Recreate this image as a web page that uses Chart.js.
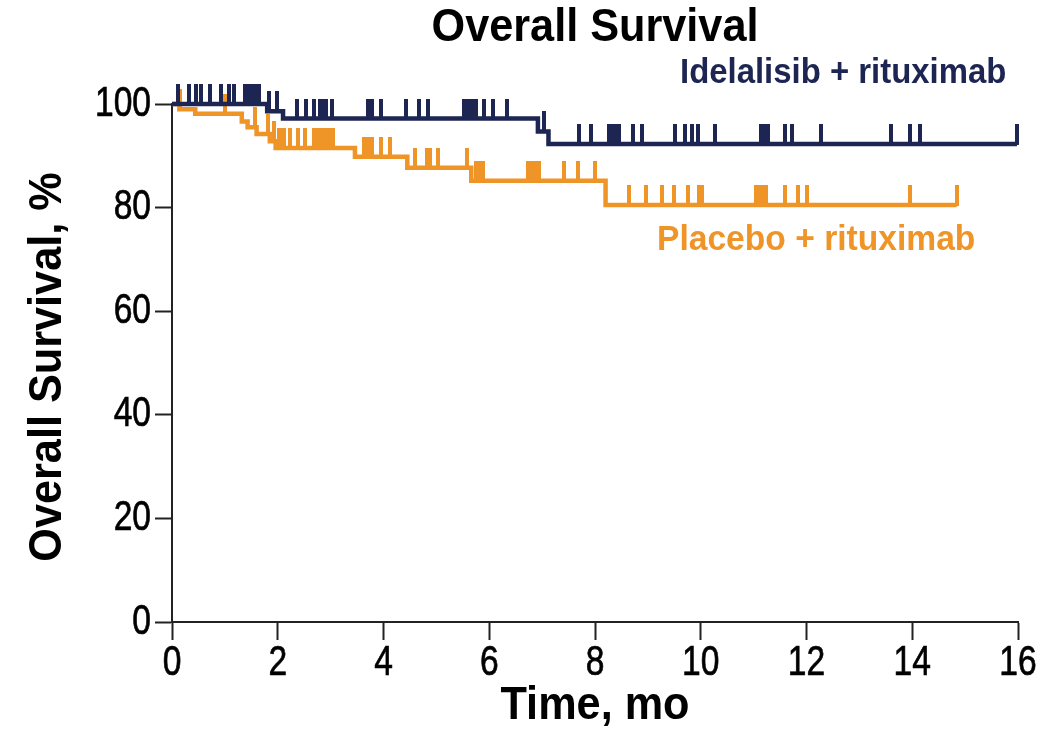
<!DOCTYPE html>
<html lang="en">
<head>
<meta charset="UTF-8">
<title>Overall Survival</title>
<script src="https://cdn.jsdelivr.net/npm/chart.js"></script>
<style>
    body {
        margin: 0;
        background: #ffffff;
    }
    #wrap {
        position: relative;
        width: 1064px;
        height: 734px;
    }
</style>
</head>
<body>
<div id="wrap">
    <canvas id="osChart"></canvas>
</div>
<script>
    // Kaplan-Meier steps: time of each drop (mo) and survival (%) after it
    const idelaTimes = [0, 1.80, 2.10, 6.92, 7.12, 15.98];
    const idelaSurv = [100, 98.6, 97.2, 94.7, 92.3, 92.3];
    // censored patients (mo)
    const idelaCensored = [0.12, 0.33, 0.45, 0.54, 0.72, 0.92, 1.07, 1.18, 1.38, 1.45, 1.52, 1.58, 1.65,
        1.84, 1.98, 2.37, 2.53, 2.69, 2.80, 2.86, 2.92, 3.02, 3.70, 3.78, 3.95, 4.42, 4.67, 4.85,
        5.53, 5.60, 5.67, 5.74, 5.90, 6.07, 6.33, 7.04, 7.69, 7.93, 8.27, 8.33, 8.40, 8.46, 8.72, 8.88,
        9.51, 9.71, 9.83, 9.95, 10.27, 11.14, 11.20, 11.27, 11.60, 11.72, 12.28, 13.60, 13.95, 14.15, 15.98];

    const placeboTimes = [0, 0.14, 0.44, 1.32, 1.43, 1.60, 1.85, 1.96, 3.46, 4.45, 5.66, 8.20, 14.84];
    const placeboSurv = [100, 99.0, 98.1, 96.6, 95.5, 94.2, 92.8, 91.5, 89.8, 87.7, 85.2, 80.5, 80.5];
    const placeboCensored = [0.15, 1.00, 1.57, 1.82, 1.92, 2.02, 2.07, 2.12, 2.23, 2.39, 2.52, 2.68, 2.74,
        2.80, 2.86, 2.92, 2.98, 3.04, 3.63, 3.70, 3.78, 3.96, 4.12, 4.60, 4.82, 4.88, 5.04, 5.57,
        5.75, 5.82, 5.88, 6.74, 6.80, 6.87, 6.94, 7.42, 7.68, 8.00, 8.65, 8.97, 9.27, 9.49, 9.76, 9.96,
        10.02, 11.04, 11.10, 11.16, 11.24, 11.60, 11.84, 12.00, 13.96, 14.84];

    const xTicks = [0, 2, 4, 6, 8, 10, 12, 14, 16];
    const yTicks = [0, 20, 40, 60, 80, 100];

    const NAVY = '#1d2552';
    const ORANGE = '#ef9427';
    const AXIS = '#222222';
    const FONT = '"Liberation Sans", Arial, sans-serif';

    function stepPoints(times, surv) {
        return times.map((t, i) => ({ x: t, y: surv[i] }));
    }

    // value of the step curve at time t
    function survAt(times, surv, t) {
        let s = surv[0];
        for (let i = 0; i < times.length; i++) {
            if (times[i] <= t) s = surv[i];
        }
        return s;
    }

    function censorPoints(times, surv, censored) {
        return censored.map(t => ({ x: t, y: survAt(times, surv, t) }));
    }

    // small vertical mark sitting on top of the curve
    function censorMark(color) {
        const c = document.createElement('canvas');
        c.width = 4;
        c.height = 40;
        const g = c.getContext('2d');
        g.fillStyle = color;
        g.fillRect(0, 0, 4, 21);
        return c;
    }

    // text squeezed horizontally like the original artwork
    function squeezed(ctx, text, x, y, align, sx, vertical, stroke) {
        ctx.save();
        ctx.translate(x, y);
        if (vertical) ctx.rotate(-Math.PI / 2);
        ctx.scale(sx, 1);
        ctx.textAlign = align;
        ctx.fillText(text, 0, 0);
        if (stroke) {
            ctx.strokeStyle = ctx.fillStyle;
            ctx.lineWidth = stroke;
            ctx.strokeText(text, 0, 0);
        }
        ctx.restore();
    }

    const textPlugin = {
        id: 'textPlugin',
        afterDraw(chart) {
            const ctx = chart.ctx;
            const area = chart.chartArea;
            const xs = chart.scales.x;
            const ys = chart.scales.y;
            ctx.save();
            ctx.textBaseline = 'middle';

            // tick labels
            ctx.font = '42px ' + FONT;
            ctx.fillStyle = '#000000';
            yTicks.forEach(v => squeezed(ctx, String(v), 151, ys.getPixelForValue(v), 'right', 0.8, false, 0.7));
            xTicks.forEach(v => squeezed(ctx, String(v), xs.getPixelForValue(v), 663, 'center', 0.8, false, 0.7));

            // titles
            ctx.font = 'bold 46px ' + FONT;
            squeezed(ctx, 'Overall Survival', (area.left + area.right) / 2, 28, 'center', 0.94);
            squeezed(ctx, 'Time, mo', (area.left + area.right) / 2, 706, 'center', 0.94);
            squeezed(ctx, 'Overall Survival, %', 48, (area.top + area.bottom) / 2 + 4, 'center', 0.94, true);

            // series labels
            ctx.font = 'bold 35px ' + FONT;
            ctx.fillStyle = NAVY;
            squeezed(ctx, 'Idelalisib + rituximab', 680, 73, 'left', 0.94);
            ctx.fillStyle = ORANGE;
            squeezed(ctx, 'Placebo + rituximab', 657, 240, 'left', 0.96);
            ctx.restore();
        }
    };

    new Chart(document.getElementById('osChart'), {
        type: 'line',
        data: {
            datasets: [
                {
                    label: 'Idelalisib + rituximab',
                    data: stepPoints(idelaTimes, idelaSurv),
                    borderColor: NAVY,
                    borderWidth: 4.5,
                    stepped: true,
                    pointRadius: 0,
                    fill: false,
                    clip: false,
                    order: 1
                },
                {
                    label: 'Idelalisib censored',
                    data: censorPoints(idelaTimes, idelaSurv, idelaCensored),
                    showLine: false,
                    pointStyle: censorMark(NAVY),
                    pointRadius: 10,
                    clip: false,
                    order: 0
                },
                {
                    label: 'Placebo + rituximab',
                    data: stepPoints(placeboTimes, placeboSurv),
                    borderColor: ORANGE,
                    borderWidth: 4.5,
                    stepped: true,
                    pointRadius: 0,
                    fill: false,
                    clip: false,
                    order: 3
                },
                {
                    label: 'Placebo censored',
                    data: censorPoints(placeboTimes, placeboSurv, placeboCensored),
                    showLine: false,
                    pointStyle: censorMark(ORANGE),
                    pointRadius: 10,
                    clip: false,
                    order: 2
                }
            ]
        },
        options: {
            responsive: true,
            maintainAspectRatio: false,
            animation: false,
            layout: { padding: { top: 104, right: 46, left: 0, bottom: 0 } },
            plugins: {
                legend: { display: false },
                tooltip: { enabled: false }
            },
            scales: {
                x: {
                    type: 'linear',
                    min: 0,
                    max: 16,
                    afterBuildTicks: s => { s.ticks = xTicks.map(v => ({ value: v })); },
                    afterFit: s => { s.height = 112; },
                    grid: { drawOnChartArea: false, drawTicks: true, tickLength: 18, tickWidth: 2, tickColor: AXIS },
                    border: { display: true, color: AXIS, width: 2 },
                    ticks: { display: false }
                },
                y: {
                    type: 'linear',
                    min: 0,
                    max: 100,
                    afterBuildTicks: s => { s.ticks = yTicks.map(v => ({ value: v })); },
                    afterFit: s => { s.width = 172; },
                    grid: { drawOnChartArea: false, drawTicks: true, tickLength: 17, tickWidth: 2, tickColor: AXIS },
                    border: { display: true, color: AXIS, width: 2 },
                    ticks: { display: false }
                }
            }
        },
        plugins: [textPlugin]
    });
</script>
</body>
</html>
